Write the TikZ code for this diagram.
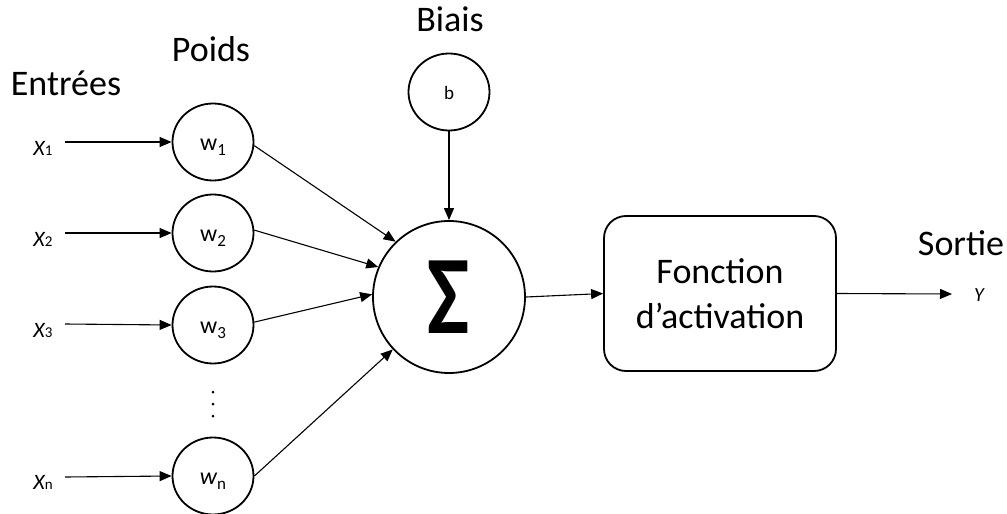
\documentclass[tikz,border=0pt]{standalone}
\usepackage{fontspec}
\setmainfont{Carlito}
\usetikzlibrary{arrows.meta,shapes.geometric}
\newcommand{\wlab}[2]{\raisebox{-8pt}[0pt][0pt]{\fontsize{24}{26}\selectfont #1\raisebox{-5pt}{\upshape\fontsize{17}{18}\selectfont #2}}}
\begin{document}
\begin{tikzpicture}[x=1pt,y=-1pt,
  wnode/.style={draw,line width=1.8pt,ellipse,minimum width=81pt,minimum height=77pt,inner sep=0pt},
  bignode/.style={draw,line width=1.8pt,circle,minimum size=152pt,inner sep=0pt},
  actbox/.style={draw,line width=1.8pt,rounded corners=22pt,minimum width=232pt,minimum height=155pt,inner sep=0pt},
  conn/.style={line width=1.1pt,-{Triangle[length=12pt,width=10pt]}},
  title/.style={font=\fontsize{36}{40}\selectfont,anchor=base,inner sep=0pt},
  xlab/.style={font=\fontsize{22}{24}\selectfont,anchor=base,inner sep=0pt},
  dotmark/.style={circle,fill=black,inner sep=0pt,minimum size=3pt}
]
\useasboundingbox (0,0) rectangle (1007,514);
% titles
\node[title] (tin) at (66,95) {Entrées};
\node[title] (tw) at (211,61) {Poids};
\node[title] (tb) at (450,31) {Biais};
\node[title] (ts) at (961,255) {Sortie};
% weight nodes
\node[wnode] (w1) at (213,142) {\wlab{w}{1}};
\node[wnode] (w2) at (213,233) {\wlab{w}{2}};
\node[wnode] (w3) at (213,325) {\wlab{w}{3}};
\node[wnode] (wn) at (213,476) {\wlab{\itshape w}{n}};
\node[dotmark] (d1) at (213,392) {};
\node[dotmark] (d2) at (213,404) {};
\node[dotmark] (d3) at (213,416) {};
% inputs
\node[xlab] (x1) at (43,155) {\itshape X\upshape\fontsize{15}{16}\selectfont 1};
\node[xlab] (x2) at (43,246) {\itshape X\upshape\fontsize{15}{16}\selectfont 2};
\node[xlab] (x3) at (43,337) {\itshape X\upshape\fontsize{15}{16}\selectfont 3};
\node[xlab] (xn) at (43,489) {\itshape X\upshape\fontsize{15}{16}\selectfont n};
\coordinate (a1) at (65,142);
\coordinate (a2) at (65,233);
\coordinate (a3) at (65,324);
\coordinate (an) at (65,477);
\draw[conn] (a1) -- (w1.west);
\draw[conn] (a2) -- (w2.west);
\draw[conn] (a3) -- (w3.west);
\draw[conn] (an) -- (wn.west);
% bias
\node[wnode] (b) at (449,92) {\raisebox{-7pt}[0pt][0pt]{\fontsize{19}{20}\selectfont b}};
% sum
\node[bignode] (sum) at (449,297) {\scalebox{0.8}[1]{\fontsize{112}{112}\selectfont\bfseries Σ}};
\draw[conn] (b.south) -- (sum.north);
\draw[conn] (w1.-5) -- (sum.134);
\draw[conn] (w2.4) -- (sum.157);
\draw[conn] (w3.4) -- (sum.178);
\draw[conn] (wn.0) -- (sum.223);
% activation
\node[actbox,align=center,font=\fontsize{36}{45}\selectfont] (act) at (720,293.5) {Fonction\\d’activation};
\draw[conn] (sum.east) -- (act.west);
\coordinate (out) at (952,294);
\draw[conn] (act.east) -- (out);
\node[xlab,font=\fontsize{20}{22}\selectfont\itshape] (y) at (979,301) {Y};
\end{tikzpicture}
\end{document}
